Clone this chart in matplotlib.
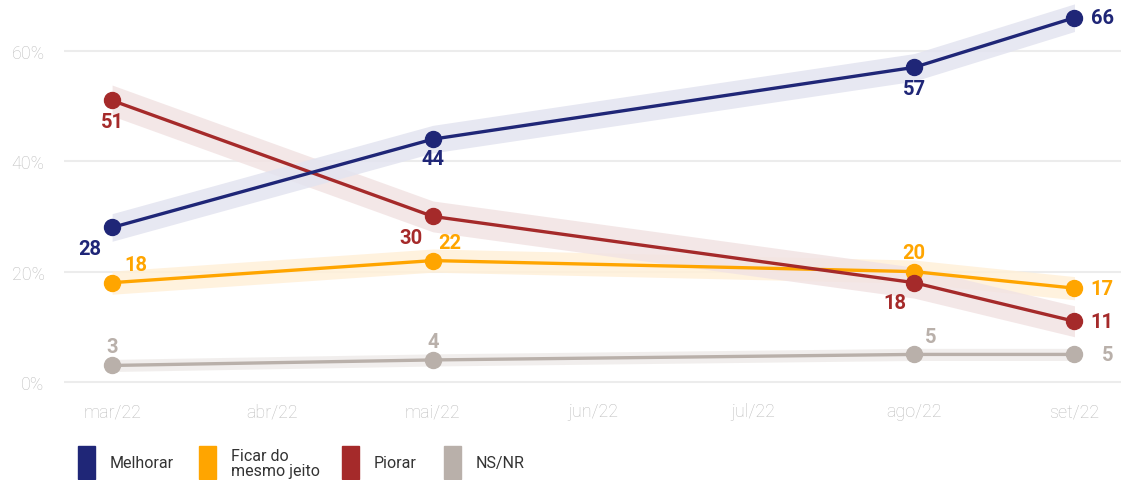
import matplotlib.pyplot as plt
from matplotlib.patches import Rectangle

plt.rcParams['font.family'] = ['Roboto', 'DejaVu Sans']

meses = ['mar/22', 'abr/22', 'mai/22', 'jun/22', 'jul/22', 'ago/22', 'set/22']
# survey months (index into meses)
pos = [0, 2, 5, 6]
melhorar = [28, 44, 57, 66]
mesmo = [18, 22, 20, 17]
piorar = [51, 30, 18, 11]
nsnr = [3, 4, 5, 5]

nomes = ['Melhorar', 'Ficar do\nmesmo jeito', 'Piorar', 'NS/NR']
cores = ['#1f2677', '#ffa500', '#a52a2a', '#b9b0aa']
bandas = ['#e3e4f0', '#fff0d9', '#f2e3e3', '#efecea']
meia = [2.5, 2.1, 2.8, 1.1]

# label offsets (points) per series, per point
offs = [
    [(-16, -15), (0, -14), (0, -15), (20, 0)],
    [(17, 13), (12, 13), (0, 14), (20, 0)],
    [(0, -15), (-16, -15), (-14, -14), (20, 0)],
    [(0, 14), (0, 13), (12, 13), (24, 0)],
]

fig = plt.figure(figsize=(11.21, 4.81), dpi=100)
ax = fig.add_axes([64 / 1121, 86 / 481, 1057 / 1121, 390 / 481])

series = [melhorar, mesmo, piorar, nsnr]
order = [3, 1, 2, 0]
for i in order:
    v = series[i]
    lo = [a - meia[i] for a in v]
    hi = [a + meia[i] for a in v]
    ax.fill_between(pos, lo, hi, color=bandas[i], alpha=0.85, lw=0, zorder=2)
for i in order:
    v = series[i]
    ax.plot(pos, v, color=cores[i], lw=2.4, marker='o', ms=11.5, zorder=4)
    for j, (x, y) in enumerate(zip(pos, v)):
        ax.annotate(str(y), (x, y), xytext=offs[i][j], textcoords='offset points',
                    ha='center', va='center', color=cores[i], fontsize=14.5,
                    fontweight='bold', zorder=5)

ax.set_xlim(-0.30, 6.29)
ax.set_ylim(-2.17, 68.48)
ax.set_yticks([0, 20, 40, 60])
ax.set_yticklabels(['0%', '20%', '40%', '60%'])
ax.set_xticks(range(len(meses)))
ax.set_xticklabels(meses)
ax.tick_params(length=0, labelcolor='#bdbdbd', labelsize=13)
ax.tick_params(axis='y', pad=14)
ax.tick_params(axis='x', pad=6)
for lab in ax.get_xticklabels() + ax.get_yticklabels():
    lab.set_fontweight('light')
ax.grid(axis='y', color='#ececec', lw=1.5, zorder=0)
for s in ax.spines.values():
    s.set_visible(False)

# legend
lx = [78, 199, 342, 444]
for k in range(4):
    fig.patches.append(Rectangle((lx[k] / 1121, 1 / 481), 17 / 1121, 33 / 481,
                                 transform=fig.transFigure, color=cores[k]))
    fig.text((lx[k] + 32) / 1121, 17 / 481, nomes[k], ha='left', va='center',
             fontsize=11.5, color='#333333', linespacing=1.0)

fig.savefig('out.png', dpi=100)
